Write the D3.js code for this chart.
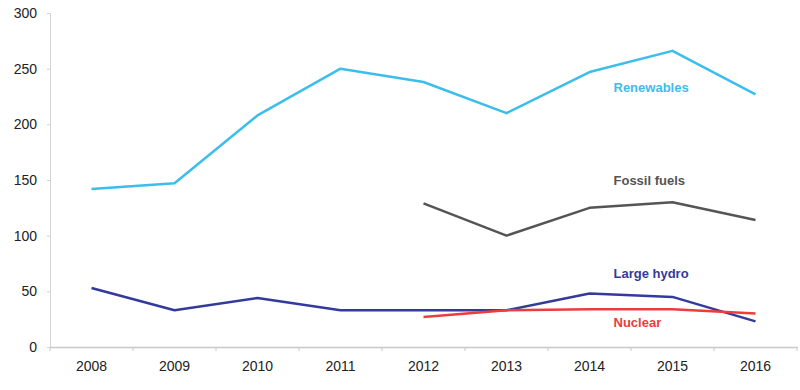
<!DOCTYPE html>
<html>
<head>
<meta charset="utf-8">
<script src="https://cdn.jsdelivr.net/npm/d3@7"></script>
<style>
  body { margin: 0; background: #fff; }
  text { font-family: "Liberation Sans", Arial, sans-serif; }
</style>
</head>
<body>
<div id="chart"></div>
<script>
// data
const years = ["2008", "2009", "2010", "2011", "2012", "2013", "2014", "2015", "2016"];
const renewables = [142, 147, 208, 250, 238, 210, 247, 266, 227];
const fossilFuels = [null, null, null, null, 129, 100, 125, 130, 114];
const largeHydro = [53, 33, 44, 33, 33, 33, 48, 45, 23];
const nuclear = [null, null, null, null, 27, 33, 34, 34, 30];
const yTicks = [0, 50, 100, 150, 200, 250, 300];

const seriesList = [
    {name: "Renewables", values: renewables, color: "#3cbdec", labelY: 233},
    {name: "Fossil fuels", values: fossilFuels, color: "#555555", labelY: 150},
    {name: "Large hydro", values: largeHydro, color: "#343a9b", labelY: 66},
    {name: "Nuclear", values: nuclear, color: "#ee3b3d", labelY: 22}
];

const width = 800, height = 390;
const margin = {top: 13, right: 3, bottom: 43, left: 50};

const svg = d3.select("#chart").append("svg")
    .attr("width", width)
    .attr("height", height);

const x = d3.scaleBand()
    .domain(years)
    .range([margin.left, width - margin.right])
    .paddingInner(0).paddingOuter(0);

const y = d3.scaleLinear()
    .domain([0, 300])
    .range([height - margin.bottom, margin.top]);

// y axis
const yAxis = svg.append("g")
    .attr("transform", `translate(${margin.left},0)`)
    .call(d3.axisLeft(y).tickValues(yTicks).tickSize(3).tickPadding(10));
yAxis.select(".domain").attr("stroke", "#d4d4d4");
yAxis.selectAll(".tick line").attr("stroke", "#d4d4d4");
yAxis.selectAll(".tick text").attr("font-size", 14).attr("fill", "#222");

// x axis
const xAxis = svg.append("g")
    .attr("transform", `translate(0,${y(0)})`)
    .call(d3.axisBottom(x).tickSize(0).tickPadding(14));
xAxis.select(".domain").attr("stroke", "#c8c8c8").attr("stroke-width", 1.5);
xAxis.selectAll(".tick text").attr("font-size", 14).attr("fill", "#222");

// band edge ticks
svg.append("g").selectAll("line")
    .data(years.concat(["end"]))
    .join("line")
    .attr("x1", (d, i) => margin.left + i * x.step())
    .attr("x2", (d, i) => margin.left + i * x.step())
    .attr("y1", y(0))
    .attr("y2", y(0) + 4)
    .attr("stroke", "#c8c8c8");

const line = d3.line()
    .defined(d => d.v != null)
    .x(d => x(d.year) + x.bandwidth() / 2)
    .y(d => y(d.v));

seriesList.forEach(s => {
    const pts = years.map((yr, i) => ({year: yr, v: s.values[i]}));
    svg.append("path")
        .datum(pts)
        .attr("fill", "none")
        .attr("stroke", s.color)
        .attr("stroke-width", 2.5)
        .attr("stroke-linejoin", "round")
        .attr("d", line);

    svg.append("text")
        .attr("x", x("2014") + x.bandwidth() / 2 + 24)
        .attr("y", y(s.labelY))
        .attr("dy", "0.35em")
        .attr("font-size", 13)
        .attr("font-weight", "bold")
        .attr("fill", s.color)
        .text(s.name);
});
</script>
</body>
</html>
